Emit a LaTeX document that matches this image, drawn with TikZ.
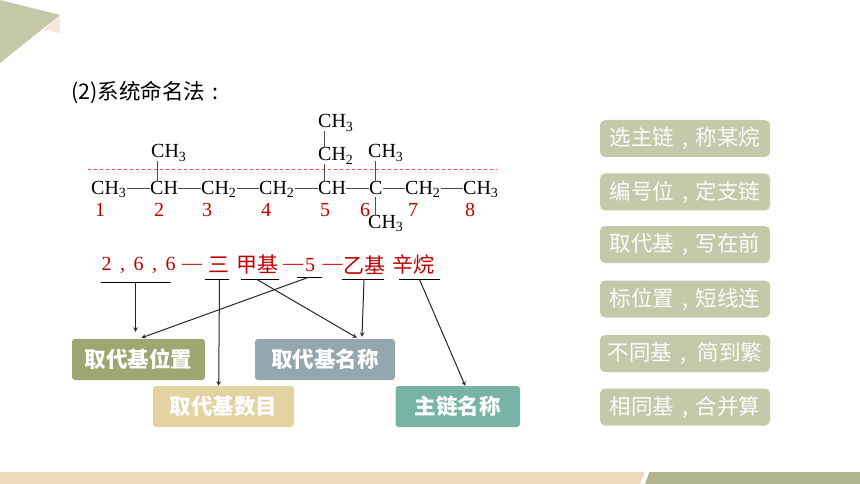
\documentclass[tikz,border=0pt]{standalone}
\usepackage{fontspec}
\setmainfont{Liberation Serif}
\newfontfamily\cjk{Noto Sans CJK SC}
\newcommand{\fsz}[1]{\fontsize{#1}{#1}\selectfont}
\definecolor{leaf}{HTML}{C5C9AA}
\definecolor{cream}{HTML}{F5E8DA}
\definecolor{sand}{HTML}{EFD9BC}
\definecolor{moss}{HTML}{B0B48F}
\definecolor{redtxt}{HTML}{C00000}
\definecolor{olivebox}{HTML}{A0A671}
\definecolor{greybox}{HTML}{94A7AE}
\definecolor{sandbox}{HTML}{E2D3A1}
\definecolor{tealbox}{HTML}{78B4A6}
\tikzset{
    mol/.style={inner sep=0pt, anchor=west, text height=13pt, text depth=3pt, font=\fsz{20}},
    num/.style={inner sep=0pt, text=redtxt, font=\fsz{20}},
    redcn/.style={inner sep=0pt, text=redtxt, font=\cjk\fsz{21}},
    bar/.style={draw, inner sep=0pt, minimum height=0pt, line width=1pt},
    kind/.style={rounded corners=3pt, inner sep=0pt, minimum height=41pt, text=white, font=\cjk\bfseries\fsz{21.5}},
    tip/.style={rounded corners=5pt, fill=leaf, inner sep=0pt, minimum width=170pt, minimum height=37pt, text=white!95!leaf, font=\cjk\fsz{21.5}},
    arr/.style={-stealth, line width=1pt, black!85},
    bond/.style={line width=1pt, black!70},
}
\newcommand{\sbn}[1]{\textsubscript{#1}}
\newcommand{\cma}{\makebox[1em]{,}}
\begin{document}
\begin{tikzpicture}[x=1pt,y=-1pt]

    \useasboundingbox (0,0) rectangle (860,484);
    % corner and bottom band
    \fill[cream] (43,30) -- (60,15) -- (60,33) -- cycle;
    \fill[leaf] (0,0) -- (60,15) -- (0,63) -- cycle;
    \fill[sand] (0,472) -- (644.5,472) -- (640,484) -- (0,484) -- cycle;
    \fill[moss] (649.5,472) -- (860,472) -- (860,484) -- (645,484) -- cycle;

    \node (title) [inner sep=0pt, anchor=west, font=\cjk\fsz{21.5}] at (71,92.5) {(2)系统命名法\makebox[1em]{:}};

    % main chain
    \draw[dashed, red!60!pink, line width=0.6pt] (88,169.5) -- (497,169.5);
    \node (c1) [mol] at (91,189) {CH\sbn{3}};
    \node (c2) [mol] at (150,189) {CH};
    \node (c3) [mol] at (201,189) {CH\sbn{2}};
    \node (c4) [mol] at (259,189) {CH\sbn{2}};
    \node (c5) [mol] at (318,189) {CH};
    \node (c6) [mol] at (369,189) {C};
    \node (c7) [mol] at (405,189) {CH\sbn{2}};
    \node (c8) [mol] at (463,189) {CH\sbn{3}};
    \foreach \a/\b in {c1/c2,c2/c3,c3/c4,c4/c5,c5/c6,c6/c7,c7/c8}
    \draw[bond] (\a) -- (\b);

    % side groups
    \node (s2) [mol] at (151,153) {CH\sbn{3}};
    \node (s5) [mol] at (318,156) {CH\sbn{2}};
    \node (t5) [mol] at (318,123) {CH\sbn{3}};
    \node (s6) [mol] at (368,153) {CH\sbn{3}};
    \node (d6) [mol] at (368,223) {CH\sbn{3}};
    \draw[bond] ([xshift=6pt]s2.south west) -- ([xshift=7pt]c2.north west);
    \draw[bond] ([xshift=6pt]t5.south west) -- ([xshift=6pt]s5.north west);
    \draw[bond] ([xshift=6pt]s5.south west) -- ([xshift=6pt]c5.north west);
    \draw[bond] ([xshift=7pt]s6.south west) -- ([xshift=6pt]c6.north west);
    \draw[bond] ([xshift=6pt]c6.south west) -- ([xshift=7pt]d6.north west);

    \foreach \n/\px in {1/100,2/159,3/207,4/266,5/325,6/365,7/413,8/470}
    \node (n\n) [num] at (\px,210) {\n};

    % the name
    \node (pos) [num] at (138.5,265) {2\hspace{8.5pt},\hspace{8.5pt}6\hspace{8.5pt},\hspace{8.5pt}6};
    \node (d1) [num] at (192,267) {—};
    \node (san) [redcn] at (219,265) {三};
    \node (jia) [redcn] at (257.5,265) {甲基};
    \node (d2) [num] at (293,267) {—};
    \node (five) [num] at (310,265) {5};
    \node (d3) [num] at (332.5,267) {—};
    \node (yi) [redcn] at (364,265) {乙基};
    \node (xin) [redcn] at (413,265) {辛烷};

    \node (u1) [bar, minimum width=70pt] at (135.5,282.5) {};
    \node (u2) [bar, minimum width=24pt] at (217,279.5) {};
    \node (u3) [bar, minimum width=38pt] at (260,279.5) {};
    \node (u4) [bar, minimum width=25pt] at (309.5,277.5) {};
    \node (u5) [bar, minimum width=42pt] at (363,279.5) {};
    \node (u6) [bar, minimum width=41pt] at (419.5,279.5) {};

    \node (b1) [kind, fill=olivebox, minimum width=133pt] at (138.5,359.5) {取代基位置};
    \node (b2) [kind, fill=greybox, minimum width=140pt] at (325,359.5) {取代基名称};
    \node (b3) [kind, fill=sandbox, minimum width=141pt] at (223.5,406.5) {取代基数目};
    \node (b4) [kind, fill=tealbox, minimum width=124.5pt] at (457.75,406.5) {主链名称};

    \draw[arr] (u1.center) -- ([xshift=-3pt,yshift=7pt]b1.north);
    \draw[arr] ([xshift=2.5pt]u2.center) -- ([xshift=-4.8pt]b3.north);
    \draw[arr] ([xshift=-3pt]u3.center) -- ([xshift=32pt,yshift=1pt]b2.north);
    \draw[arr] ([xshift=-1.5pt]u4.center) -- ([xshift=3pt,yshift=1pt]b1.north);
    \draw[arr] ([xshift=1pt]u5.center) -- ([xshift=37pt,yshift=2pt]b2.north);
    \draw[arr] (u6.center) -- ([xshift=7.5pt]b4.north);

    % rules on the right
    \node (r1) [tip] at (685,138.5) {选主链\cma 称某烷};
    \node (r2) [tip] at (685,192) {编号位\cma 定支链};
    \node (r3) [tip] at (685,244.5) {取代基\cma 写在前};
    \node (r4) [tip] at (685,299) {标位置\cma 短线连};
    \node (r5) [tip] at (685,353.5) {不同基\cma\,简到繁};
    \node (r6) [tip] at (685,407) {相同基\cma 合并算};

\end{tikzpicture}
\end{document}
